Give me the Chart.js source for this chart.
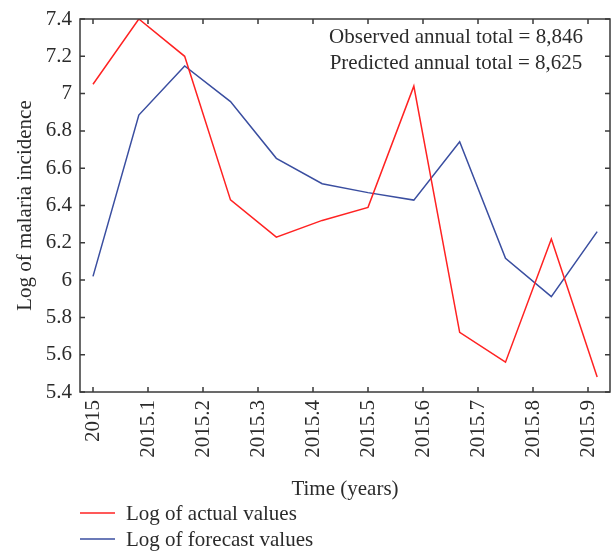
<!DOCTYPE html>
<html>
<head>
<meta charset="utf-8">
<script src="https://cdn.jsdelivr.net/npm/chart.js@4.4.1/dist/chart.umd.min.js"></script>
<style>
  html, body { margin: 0; padding: 0; background: #fff; }
  #wrap { width: 611px; height: 553px; }
</style>
</head>
<body>
<div id="wrap"><canvas id="c" width="611" height="553"></canvas></div>
<script>
// ---- data ----
const monthIndex = [0, 1, 2, 3, 4, 5, 6, 7, 8, 9, 10, 11];
const timeYears = monthIndex.map(k => 2015 + k / 12);
const actualValues = [7.05, 7.40, 7.20, 6.43, 6.23, 6.32, 6.39, 7.04, 5.72, 5.56, 6.22, 5.48];
const forecastValues = [6.02, 6.885, 7.148, 6.957, 6.653, 6.517, 6.469, 6.429, 6.742, 6.117, 5.911, 6.26];
const xTickValues = [2015, 2015.1, 2015.2, 2015.3, 2015.4, 2015.5, 2015.6, 2015.7, 2015.8, 2015.9];
const xTickLabels = ['2015', '2015.1', '2015.2', '2015.3', '2015.4', '2015.5', '2015.6', '2015.7', '2015.8', '2015.9'];
const yTickValues = [5.4, 5.6, 5.8, 6, 6.2, 6.4, 6.6, 6.8, 7, 7.2, 7.4];
const yTickLabels = ['5.4', '5.6', '5.8', '6', '6.2', '6.4', '6.6', '6.8', '7', '7.2', '7.4'];
const seriesNames = ['Log of actual values', 'Log of forecast values'];
const annotationLines = ['Observed annual total = 8,846', 'Predicted annual total = 8,625'];

const FONT = '"Liberation Serif", "Times New Roman", serif';
const TEXT = '#2b2b2b';
const AXIS = '#3a3a3a';

const framePlugin = {
  id: 'frame',
  afterDatasetsDraw(chart) {
    const {ctx, chartArea: a, scales} = chart;
    ctx.save();
    ctx.strokeStyle = AXIS;
    ctx.lineWidth = 1.5;
    ctx.strokeRect(a.left, a.top, a.right - a.left, a.bottom - a.top);
    const tl = 5;
    ctx.beginPath();
    scales.x.ticks.forEach(t => {
      const px = scales.x.getPixelForValue(t.value);
      ctx.moveTo(px, a.bottom); ctx.lineTo(px, a.bottom - tl);
      ctx.moveTo(px, a.top); ctx.lineTo(px, a.top + tl);
    });
    scales.y.ticks.forEach(t => {
      const py = scales.y.getPixelForValue(t.value);
      ctx.moveTo(a.left, py); ctx.lineTo(a.left + tl, py);
      ctx.moveTo(a.right, py); ctx.lineTo(a.right - tl, py);
    });
    ctx.stroke();
    // annotation
    ctx.fillStyle = TEXT;
    ctx.font = '21px ' + FONT;
    ctx.textAlign = 'center';
    ctx.textBaseline = 'alphabetic';
    annotationLines.forEach((s, i) => ctx.fillText(s, 456, 43 + i * 26));
    // legend
    chart.data.datasets.forEach((ds, i) => {
      const y = 513 + i * 26;
      ctx.strokeStyle = ds.borderColor;
      ctx.lineWidth = 1.5;
      ctx.beginPath();
      ctx.moveTo(80, y); ctx.lineTo(115, y);
      ctx.stroke();
      ctx.fillStyle = TEXT;
      ctx.textAlign = 'left';
      ctx.textBaseline = 'middle';
      ctx.fillText(ds.label, 126, y + 1);
    });
    ctx.restore();
  }
};

new Chart(document.getElementById('c'), {
  type: 'line',
  data: {
    datasets: [
      { label: seriesNames[0], data: timeYears.map((x, i) => ({x, y: actualValues[i]})),
        borderColor: '#ff2222', borderWidth: 1.5, pointRadius: 0, tension: 0, fill: false },
      { label: seriesNames[1], data: timeYears.map((x, i) => ({x, y: forecastValues[i]})),
        borderColor: '#3a4ea0', borderWidth: 1.5, pointRadius: 0, tension: 0, fill: false }
    ]
  },
  options: {
    responsive: false,
    animation: false,
    devicePixelRatio: 1,
    layout: { padding: { top: 19, right: 1, bottom: 51.4, left: 0 } },
    plugins: { legend: { display: false }, tooltip: { enabled: false } },
    scales: {
      x: {
        type: 'linear',
        min: 2015 - 13 / 550,
        max: 2015 + 517 / 550,
        afterBuildTicks(scale) { scale.ticks = xTickValues.map(v => ({value: v})); },
        afterFit(scale) { scale.height = 109.6; scale.paddingLeft = 0; scale.paddingRight = 0; },
        grid: { display: false, drawTicks: false },
        border: { display: false },
        ticks: {
          autoSkip: false, minRotation: 90, maxRotation: 90, padding: 8,
          color: TEXT, font: { family: FONT, size: 21 },
          callback(v) { const i = xTickValues.findIndex(t => Math.abs(t - v) < 1e-6); return i >= 0 ? xTickLabels[i] : ''; }
        },
        title: { display: true, text: 'Time (years)', color: TEXT, font: { family: FONT, size: 21 }, padding: 0 }
      },
      y: {
        min: 5.4, max: 7.4,
        afterBuildTicks(scale) { scale.ticks = yTickValues.map(v => ({value: v})); },
        afterFit(scale) { scale.width = 80; scale.paddingTop = 0; scale.paddingBottom = 0; },
        grid: { display: false, drawTicks: false },
        border: { display: false },
        ticks: {
          autoSkip: false, padding: 8, color: TEXT, font: { family: FONT, size: 21 },
          callback(v) { const i = yTickValues.findIndex(t => Math.abs(t - v) < 1e-6); return i >= 0 ? yTickLabels[i] : ''; }
        },
        title: { display: true, text: 'Log of malaria incidence', color: TEXT, font: { family: FONT, size: 21 }, padding: { top: 13, bottom: 0 } }
      }
    }
  },
  plugins: [framePlugin]
});
</script>
</body>
</html>
